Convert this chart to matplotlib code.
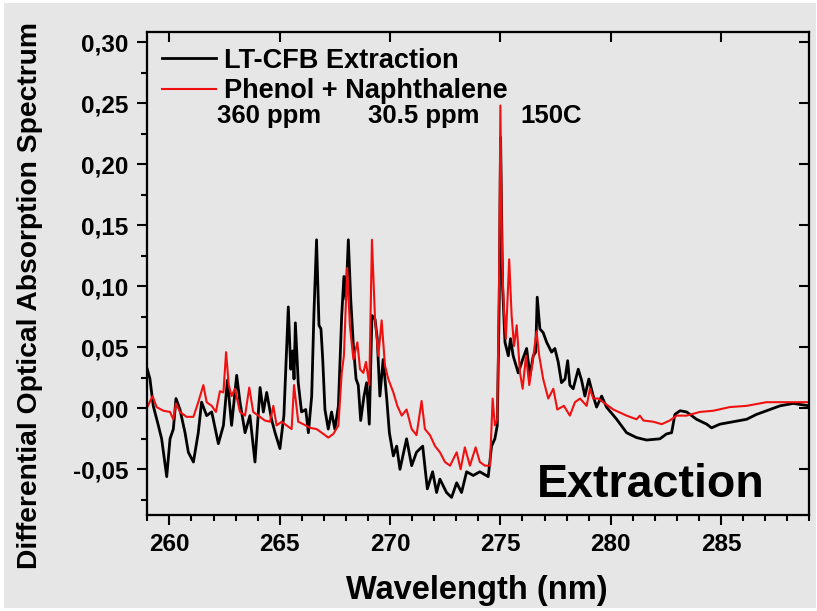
import matplotlib
matplotlib.use("Agg")
import matplotlib.pyplot as plt
from matplotlib.patches import Rectangle
from matplotlib.ticker import FixedLocator, MultipleLocator, NullLocator, FuncFormatter

# LT-CFB extraction spectrum
black_wl = [259.00, 259.12, 259.27, 259.50, 259.65, 259.88, 260.03, 260.18, 260.30, 260.48,
            260.71, 260.86, 261.09, 261.31, 261.46, 261.69, 261.92, 262.22, 262.45, 262.63,
            262.82, 263.05, 263.20, 263.43, 263.65, 263.88, 264.11, 264.26, 264.41, 264.63,
            264.79, 265.01, 265.19, 265.39, 265.50, 265.59, 265.65, 265.71, 265.84, 265.99,
            266.18, 266.30, 266.45, 266.55, 266.67, 266.78, 266.87, 266.95, 267.05, 267.20,
            267.35, 267.50, 267.66, 267.81, 267.91, 268.00, 268.11, 268.22, 268.34, 268.46,
            268.56, 268.67, 268.82, 268.94, 269.06, 269.18, 269.32, 269.42, 269.54, 269.69,
            269.85, 269.97, 270.15, 270.30, 270.45, 270.75, 270.98, 271.20, 271.48, 271.69,
            271.93, 272.11, 272.26, 272.56, 272.79, 273.02, 273.24, 273.47, 273.77, 274.07,
            274.45, 274.60, 274.75, 274.86, 274.95, 275.01, 275.10, 275.21, 275.36, 275.46,
            275.58, 275.81, 276.01, 276.19, 276.34, 276.49, 276.60, 276.67, 276.79, 276.94,
            277.10, 277.32, 277.47, 277.62, 277.77, 277.93, 278.05, 278.15, 278.30, 278.53,
            278.68, 278.83, 279.01, 279.21, 279.36, 279.59, 279.81, 280.27, 280.72, 281.17,
            281.63, 282.23, 282.53, 282.76, 282.91, 283.14, 283.44, 283.89, 284.35, 284.57,
            284.95, 285.55, 286.16, 286.61, 287.06, 287.67, 288.27, 289.00]
black_val = [0.032, 0.024, 0.002, -0.014, -0.025, -0.056, -0.025, -0.017, 0.008, -0.001,
             -0.020, -0.036, -0.044, -0.020, 0.005, -0.006, -0.003, -0.029, -0.014, 0.023,
             -0.014, 0.027, 0.005, -0.020, -0.006, -0.044, 0.017, -0.003, 0.013, -0.009,
             -0.020, -0.033, -0.006, 0.083, 0.032, 0.047, 0.024, 0.070, 0.021, -0.003,
             -0.001, -0.020, 0.010, 0.077, 0.138, 0.068, 0.065, 0.040, -0.001, -0.017,
             -0.003, -0.017, 0.002, 0.076, 0.108, 0.089, 0.138, 0.089, 0.051, 0.024,
             0.019, -0.010, 0.010, 0.021, -0.013, 0.076, 0.073, 0.057, 0.010, 0.040,
             0.008, -0.020, -0.039, -0.031, -0.050, -0.025, -0.047, -0.036, -0.031, -0.066,
             -0.052, -0.069, -0.058, -0.069, -0.073, -0.061, -0.069, -0.052, -0.055, -0.052,
             -0.056, -0.031, -0.025, -0.014, 0.089, 0.222, 0.100, 0.054, 0.043, 0.057,
             0.043, 0.029, 0.040, 0.049, 0.027, 0.043, 0.046, 0.091, 0.065, 0.062,
             0.054, 0.046, 0.049, 0.038, 0.021, 0.024, 0.039, 0.019, 0.016, 0.032,
             0.023, 0.010, 0.024, 0.010, 0.001, 0.010, 0.001, -0.009, -0.020, -0.024,
             -0.026, -0.025, -0.021, -0.020, -0.005, -0.002, -0.003, -0.009, -0.013, -0.016,
             -0.013, -0.011, -0.009, -0.005, -0.002, 0.002, 0.004, 0.002]

# Phenol + naphthalene reference spectrum
red_wl = [259.00, 259.24, 259.42, 259.73, 260.03, 260.18, 260.30, 260.48, 260.78, 261.09,
          261.31, 261.54, 261.69, 261.92, 262.11, 262.29, 262.45, 262.57, 262.69, 262.82,
          262.97, 263.20, 263.43, 263.62, 263.80, 264.03, 264.33, 264.56, 264.71, 264.86,
          265.09, 265.31, 265.54, 265.65, 265.84, 266.07, 266.37, 266.67, 266.98, 267.20,
          267.43, 267.66, 267.81, 267.91, 268.06, 268.18, 268.34, 268.52, 268.64, 268.79,
          268.91, 269.06, 269.18, 269.32, 269.47, 269.62, 269.77, 269.92, 270.15, 270.33,
          270.53, 270.75, 270.98, 271.20, 271.43, 271.58, 271.81, 272.04, 272.26, 272.49,
          272.72, 273.02, 273.20, 273.39, 273.62, 273.88, 274.07, 274.30, 274.53, 274.65,
          274.75, 274.86, 274.95, 275.00, 275.08, 275.16, 275.25, 275.40, 275.51, 275.62,
          275.74, 275.89, 276.01, 276.16, 276.31, 276.46, 276.64, 276.76, 276.94, 277.17,
          277.40, 277.58, 277.88, 278.15, 278.38, 278.61, 278.91, 279.06, 279.21, 279.44,
          279.66, 280.12, 280.72, 281.17, 281.32, 281.48, 281.93, 282.31, 282.68, 282.99,
          283.44, 284.04, 284.65, 285.40, 286.16, 287.06, 287.97, 289.00]
red_val = [0.001, 0.010, 0.001, -0.002, -0.003, -0.009, 0.004, -0.003, -0.007, -0.007,
           0.005, 0.019, 0.005, 0.002, -0.003, 0.014, 0.013, 0.046, 0.019, 0.010,
           0.016, -0.003, -0.006, 0.017, -0.003, -0.006, -0.010, -0.011, 0.002, -0.014,
           -0.011, -0.014, -0.017, 0.019, -0.011, -0.013, -0.016, -0.017, -0.021, -0.024,
           -0.021, -0.014, 0.029, 0.043, 0.115, 0.068, 0.040, 0.054, 0.032, 0.029,
           0.038, 0.019, 0.138, 0.073, 0.043, 0.072, 0.035, 0.024, 0.013, 0.002,
           -0.006, -0.001, -0.017, -0.022, 0.006, -0.017, -0.022, -0.031, -0.036, -0.044,
           -0.047, -0.036, -0.050, -0.032, -0.047, -0.032, -0.044, -0.047, -0.047, 0.008,
           -0.014, -0.009, 0.120, 0.248, 0.120, 0.081, 0.057, 0.122, 0.076, 0.051,
           0.068, 0.029, 0.016, 0.043, 0.019, 0.038, 0.063, 0.043, 0.024, 0.008,
           0.016, -0.001, 0.002, -0.006, 0.005, 0.008, 0.002, 0.016, 0.008, 0.008,
           0.005, -0.001, -0.006, -0.009, -0.006, -0.010, -0.011, -0.013, -0.010, -0.006,
           -0.006, -0.003, -0.002, 0.001, 0.002, 0.005, 0.005, 0.005]

x_ticks = [260, 265, 270, 275, 280, 285]
y_ticks = [-0.05, 0.00, 0.05, 0.10, 0.15, 0.20, 0.25, 0.30]
series_labels = ["LT-CFB Extraction", "Phenol + Naphthalene"]
conditions = ["360 ppm", "30.5 ppm", "150C"]

BG = "#e6e6e6"
W, H = 817, 611
XLIM = (259, 289)
YLIM = (-0.087, 0.308)

plt.rcParams["font.family"] = ["Liberation Sans", "DejaVu Sans"]
plt.rcParams["font.weight"] = "bold"
plt.rcParams["axes.labelweight"] = "bold"

fig = plt.figure(figsize=(W / 100, H / 100), dpi=100, facecolor="white")
fig.add_artist(Rectangle((4 / W, 3 / H), 812 / W, 605 / H, transform=fig.transFigure,
                         facecolor=BG, edgecolor="none", zorder=-5))

x0, x1, ytop, ybot = 147.3, 809.3, 32.3, 514.5
ax = fig.add_axes([x0 / W, (H - ybot) / H, (x1 - x0) / W, (ybot - ytop) / H])
ax.set_facecolor(BG)

ax.plot(black_wl, black_val, color="black", lw=2.0, label=series_labels[0])
ax.plot(red_wl, red_val, color="#f01010", lw=1.5, label=series_labels[1])

ax.set_xlim(*XLIM)
ax.set_ylim(*YLIM)

ax.xaxis.set_major_locator(FixedLocator(x_ticks))
ax.xaxis.set_minor_locator(MultipleLocator(1))
ax.yaxis.set_major_locator(FixedLocator(y_ticks))
ax.yaxis.set_minor_locator(MultipleLocator(0.025))
ax.yaxis.set_major_formatter(FuncFormatter(lambda v, p: f"{v:.2f}".replace(".", ",")))

ax.tick_params(which="both", direction="out", width=1.5, top=False, right=False,
               labelsize=17.5)
ax.tick_params(which="major", length=7.5, pad=6)
ax.tick_params(which="minor", length=4.5)
for sp in ax.spines.values():
    sp.set_linewidth(1.5)

# inward major ticks on the top and right frame
axt = ax.twiny()
axt.set_xlim(*XLIM)
axt.xaxis.set_major_locator(FixedLocator(x_ticks))
axt.xaxis.set_minor_locator(NullLocator())
axt.tick_params(axis="x", direction="in", length=7.5, width=1.5, top=True,
                bottom=False, labeltop=False, labelbottom=False)
axr = ax.twinx()
axr.set_ylim(*YLIM)
axr.yaxis.set_major_locator(FixedLocator(y_ticks))
axr.yaxis.set_minor_locator(NullLocator())
axr.tick_params(axis="y", direction="in", length=7.5, width=1.5, right=True,
                left=False, labelright=False, labelleft=False)
for a in (axt, axr):
    for sp in a.spines.values():
        sp.set_linewidth(1.5)

ax.legend(loc="upper left", bbox_to_anchor=(0.022, 0.968), frameon=False,
          fontsize=19.5, handlelength=2.0, handletextpad=0.3, labelspacing=0.17,
          borderpad=0, borderaxespad=0)

for txt, xf in zip(conditions, [0.1048, 0.3328, 0.5630]):
    ax.text(xf, 0.826, txt, transform=ax.transAxes, fontsize=18.5, ha="left", va="center")

ax.text(0.588, 0.036, "Extraction", transform=ax.transAxes, fontsize=33.5,
        ha="left", va="baseline")

ax.set_xlabel("Wavelength (nm)", fontsize=23.5)
ax.xaxis.set_label_coords(0.498, -0.157)
ax.xaxis.label.set_verticalalignment("center")
ax.set_ylabel("Differential Optical Absorption Spectrum", fontsize=20.3)
ax.yaxis.set_label_coords(-0.177, 0.455)
ax.yaxis.label.set_verticalalignment("center")

fig.savefig("out.png", dpi=100, facecolor=fig.get_facecolor())
